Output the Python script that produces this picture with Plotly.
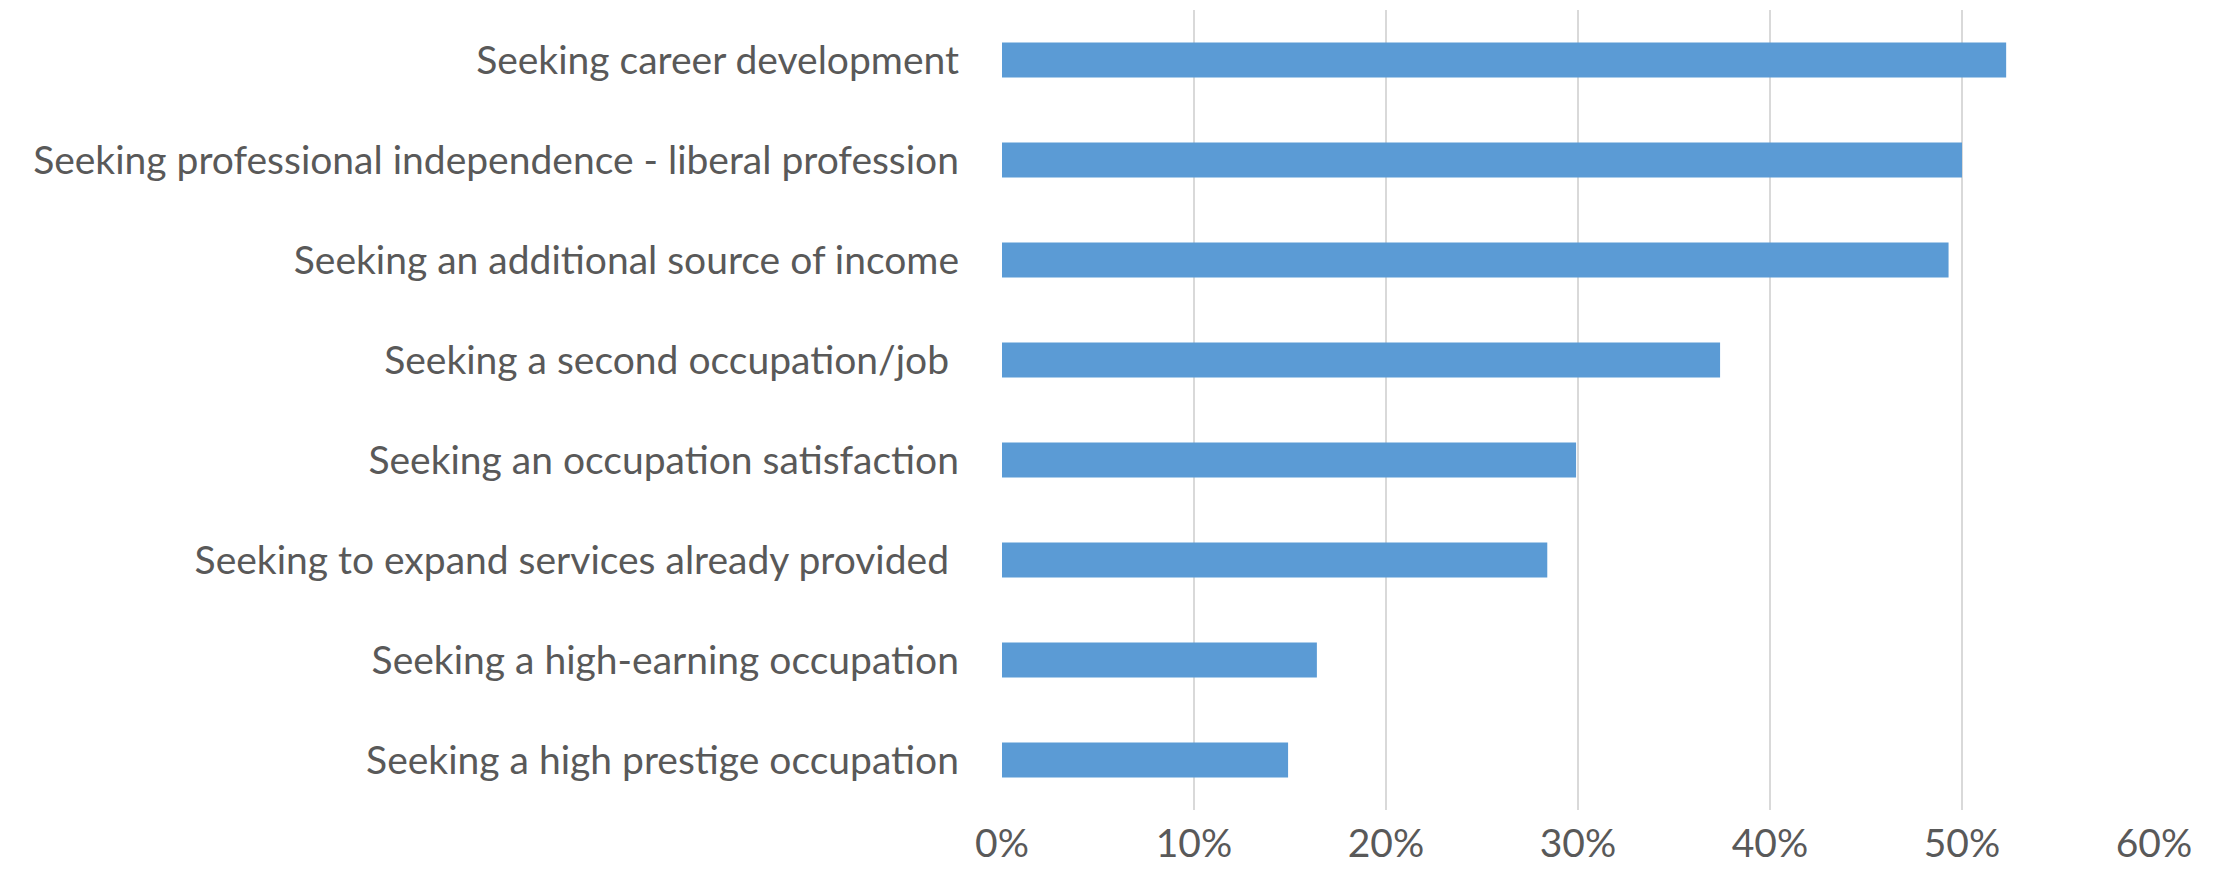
import plotly.graph_objects as go

categories = [
    "Seeking career development",
    "Seeking professional independence - liberal profession",
    "Seeking an additional source of income",
    "Seeking a second occupation/job ",
    "Seeking an occupation satisfaction",
    "Seeking to expand services already provided ",
    "Seeking a high-earning occupation",
    "Seeking a high prestige occupation",
]
shares = [52.3, 50.0, 49.3, 37.4, 29.9, 28.4, 16.4, 14.9]
x_ticks = [0, 10, 20, 30, 40, 50, 60]
x_tick_labels = ["0%", "10%", "20%", "30%", "40%", "50%", "60%"]

font_family = "Lato, 'Open Sans', sans-serif"
text_grey = "#595959"

fig = go.Figure()

fig.add_trace(go.Bar(x=shares, y=categories, orientation='h',
                     marker=dict(color='#5b9bd5', line=dict(width=0)),
                     width=0.35))

# page body has an 8px margin, so the figure is a bit smaller than the window
fig.update_layout(width=2213, height=875, autosize=False,
                  margin=dict(l=994, r=67, t=2, b=73),
                  plot_bgcolor='white', paper_bgcolor='white',
                  showlegend=False,
                  font=dict(family=font_family, size=39, color=text_grey),
                  xaxis=dict(range=[0, 60], tickvals=x_ticks, ticktext=x_tick_labels,
                             showgrid=True, gridcolor='#d9d9d9', gridwidth=2,
                             zeroline=False, showline=False, ticks='',
                             ticklabelstandoff=7, automargin=False),
                  yaxis=dict(autorange='reversed', showgrid=False, zeroline=False,
                             showline=False, ticks='', ticklabelstandoff=42,
                             automargin=False),
                  )

fig.write_html("out.html")
